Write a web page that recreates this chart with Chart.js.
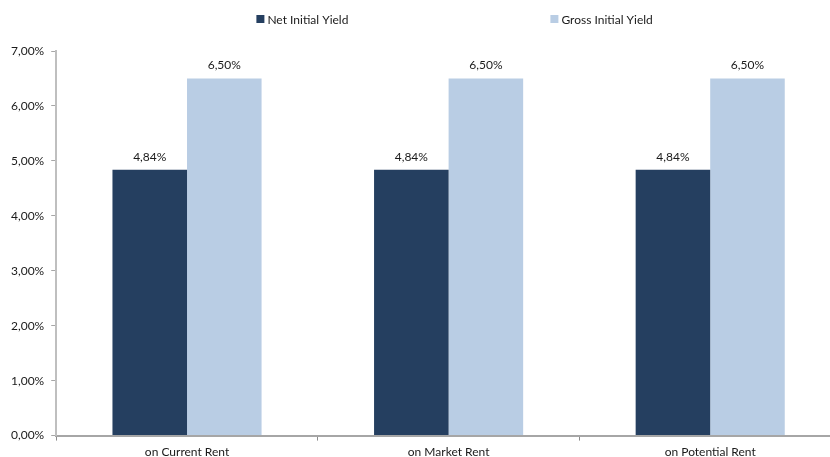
<!DOCTYPE html>
<html>
<head>
<meta charset="utf-8">
<script src="https://cdn.jsdelivr.net/npm/chart.js@4.4.0/dist/chart.umd.min.js"></script>
<style>
    html, body { margin: 0; padding: 0; background: #fff; overflow: hidden; }
    #wrap { position: relative; width: 850px; height: 457px; }
</style>
</head>
<body>
<div id="wrap"><canvas id="yieldChart"></canvas></div>
<script>
const categories = ['on Current Rent', 'on Market Rent', 'on Potential Rent'];
const netYield = [4.84, 4.84, 4.84];
const grossYield = [6.50, 6.50, 6.50];
const yTicks = [0, 1, 2, 3, 4, 5, 6, 7];

const FONT = 'Lato, "Open Sans", sans-serif';
const pct = (v) => v.toFixed(2).replace('.', ',') + '%';

// values above each bar
const valueLabels = {
    id: 'valueLabels',
    afterDatasetsDraw(chart) {
        const ctx = chart.ctx;
        ctx.save();
        ctx.font = '12px ' + FONT;
        ctx.fillStyle = '#1a1a1a';
        ctx.textAlign = 'center';
        ctx.textBaseline = 'middle';
        chart.data.datasets.forEach((ds, i) => {
            chart.getDatasetMeta(i).data.forEach((bar, j) => {
                ctx.fillText(pct(ds.data[j]), bar.x, bar.y - 13);
            });
        });
        ctx.restore();
    }
};

// legend row with wide spacing, centred over the plot area
const wideLegend = {
    id: 'wideLegend',
    afterDraw(chart) {
        const ctx = chart.ctx;
        const area = chart.chartArea;
        const gap = 202;
        const box = 8;
        ctx.save();
        ctx.font = '12px ' + FONT;
        ctx.textBaseline = 'middle';
        const items = chart.data.datasets.map(ds => ({
            text: ds.label,
            color: ds.backgroundColor,
            w: box + 3 + ctx.measureText(ds.label).width
        }));
        const total = items.reduce((s, it) => s + it.w, 0) + gap * (items.length - 1);
        let x = (area.left + area.right) / 2 - total / 2 + 6;
        const y = 19;
        items.forEach(it => {
            ctx.fillStyle = it.color;
            ctx.fillRect(x, y - box / 2, box, box);
            ctx.fillStyle = '#1a1a1a';
            ctx.fillText(it.text, x + box + 3, y + 1);
            x += it.w + gap;
        });
        ctx.restore();
    }
};

new Chart(document.getElementById('yieldChart'), {
    type: 'bar',
    data: {
        labels: categories,
        datasets: [
            {
                label: 'Net Initial Yield',
                data: netYield,
                backgroundColor: '#253f60',
                categoryPercentage: 0.57,
                barPercentage: 1.0
            },
            {
                label: 'Gross Initial Yield',
                data: grossYield,
                backgroundColor: '#b9cde4',
                categoryPercentage: 0.57,
                barPercentage: 1.0
            }
        ]
    },
    options: {
        responsive: true,
        maintainAspectRatio: false,
        animation: false,
        layout: { padding: { top: 51, right: 9, left: 4, bottom: -6 } },
        plugins: {
            legend: { display: false },
            tooltip: { enabled: false }
        },
        scales: {
            x: {
                offset: true,
                grid: {
                    offset: true,
                    drawOnChartArea: false,
                    drawTicks: true,
                    tickLength: 5,
                    color: '#8c8c8c'
                },
                border: { color: '#a6a6a6', width: 2 },
                ticks: {
                    color: '#1a1a1a',
                    font: { family: FONT, size: 12 },
                    padding: 4
                }
            },
            y: {
                min: 0,
                max: 7,
                afterBuildTicks: (axis) => {
                    axis.ticks = yTicks.map(v => ({ value: v }));
                },
                grid: {
                    drawOnChartArea: false,
                    drawTicks: true,
                    tickLength: 5,
                    color: '#a6a6a6'
                },
                border: { color: '#bfbfbf', width: 2 },
                ticks: {
                    color: '#1a1a1a',
                    font: { family: FONT, size: 12 },
                    padding: 7,
                    callback: (v) => pct(v)
                }
            }
        }
    },
    plugins: [valueLabels, wideLegend]
});
</script>
</body>
</html>
